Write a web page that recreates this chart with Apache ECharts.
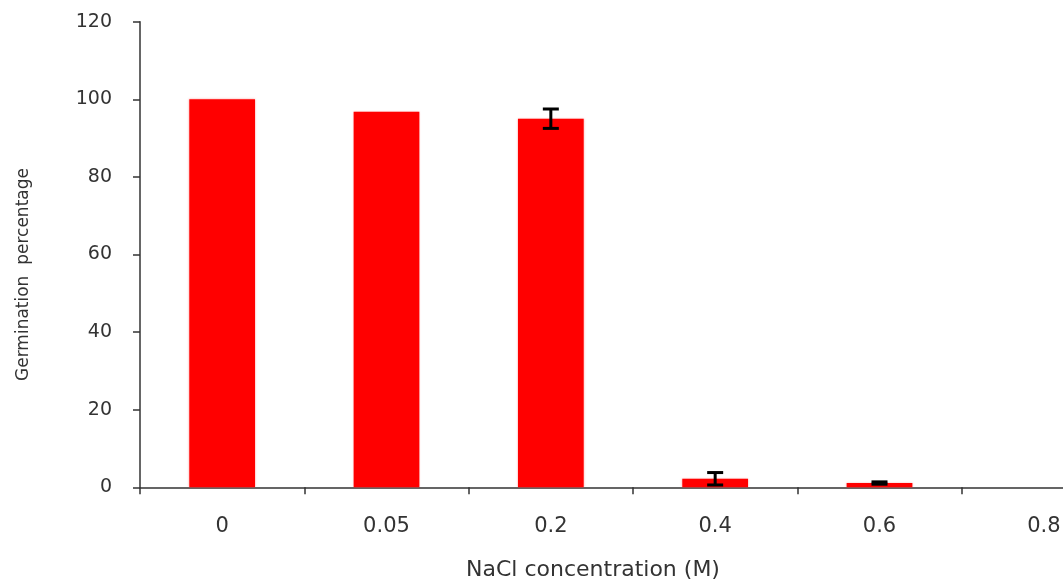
<!DOCTYPE html>
<html>
<head>
<meta charset="utf-8">
<script src="https://cdn.jsdelivr.net/npm/echarts@6/dist/echarts.min.js"></script>
<style>
html,body{margin:0;padding:0;background:#fff;}
#chart{width:1063px;height:580px;}
</style>
</head>
<body>
<div id="chart"></div>
<script>
var categories = ['0', '0.05', '0.2', '0.4', '0.6', '0.8'];
var germination = [100, 96.8, 95, 2.2, 1.1, 0];
var errors = [0, 0, 2.5, 1.6, 0.3, 0];

var chart = echarts.init(document.getElementById('chart'));
var font = 'DejaVu Sans, Liberation Sans, sans-serif';
var errData = categories.map(function (c, i) {
  return [i, germination[i] - errors[i], germination[i] + errors[i], errors[i]];
});

chart.setOption({
  animation: false,
  backgroundColor: '#ffffff',
  grid: { left: 140, top: 21.7, bottom: 92.7, width: 986, outerBoundsMode: 'none', containLabel: false },
  xAxis: {
    type: 'category',
    data: categories,
    name: 'NaCl concentration (M)',
    nameLocation: 'middle',
    nameGap: 72,
    nameTextStyle: { fontFamily: font, fontSize: 22, color: '#333', padding: [0, 80, 0, 0] },
    axisLine: { show: true, lineStyle: { color: '#333', width: 1.5 } },
    axisTick: { show: true, inside: false, length: 7, alignWithLabel: false, lineStyle: { color: '#333', width: 1.5 } },
    axisLabel: { fontFamily: font, fontSize: 21, color: '#333', margin: 29 },
    splitLine: { show: false }
  },
  yAxis: {
    type: 'value',
    min: 0,
    max: 120,
    interval: 20,
    name: 'Germination  percentage',
    nameLocation: 'middle',
    nameGap: 108,
    nameRotate: 90,
    nameTextStyle: { fontFamily: font, fontSize: 17, color: '#333', padding: [0, 40, 0, 0] },
    axisLine: { show: true, lineStyle: { color: '#333', width: 1.5 } },
    axisTick: { show: true, inside: false, length: 7, lineStyle: { color: '#333', width: 1.5 } },
    axisLabel: { fontFamily: font, fontSize: 19, color: '#333', margin: 28 },
    splitLine: { show: false }
  },
  series: [
    {
      type: 'bar',
      data: germination,
      barWidth: '40%',
      itemStyle: { color: '#ff0000', shadowColor: 'rgba(255,80,80,0.5)', shadowBlur: 2 }
    },
    {
      type: 'custom',
      data: errData,
      z: 10,
      renderItem: function (params, api) {
        if (api.value(3) <= 0) return null;
        var lo = api.coord([api.value(0), api.value(1)]);
        var hi = api.coord([api.value(0), api.value(2)]);
        var hw = 8;
        var style = { stroke: '#000', lineWidth: 3 };
        return {
          type: 'group',
          children: [
            { type: 'line', shape: { x1: lo[0], y1: lo[1], x2: hi[0], y2: hi[1] }, style: style },
            { type: 'line', shape: { x1: hi[0] - hw, y1: hi[1], x2: hi[0] + hw, y2: hi[1] }, style: style },
            { type: 'line', shape: { x1: lo[0] - hw, y1: lo[1], x2: lo[0] + hw, y2: lo[1] }, style: style }
          ]
        };
      }
    }
  ]
});
</script>
</body>
</html>
